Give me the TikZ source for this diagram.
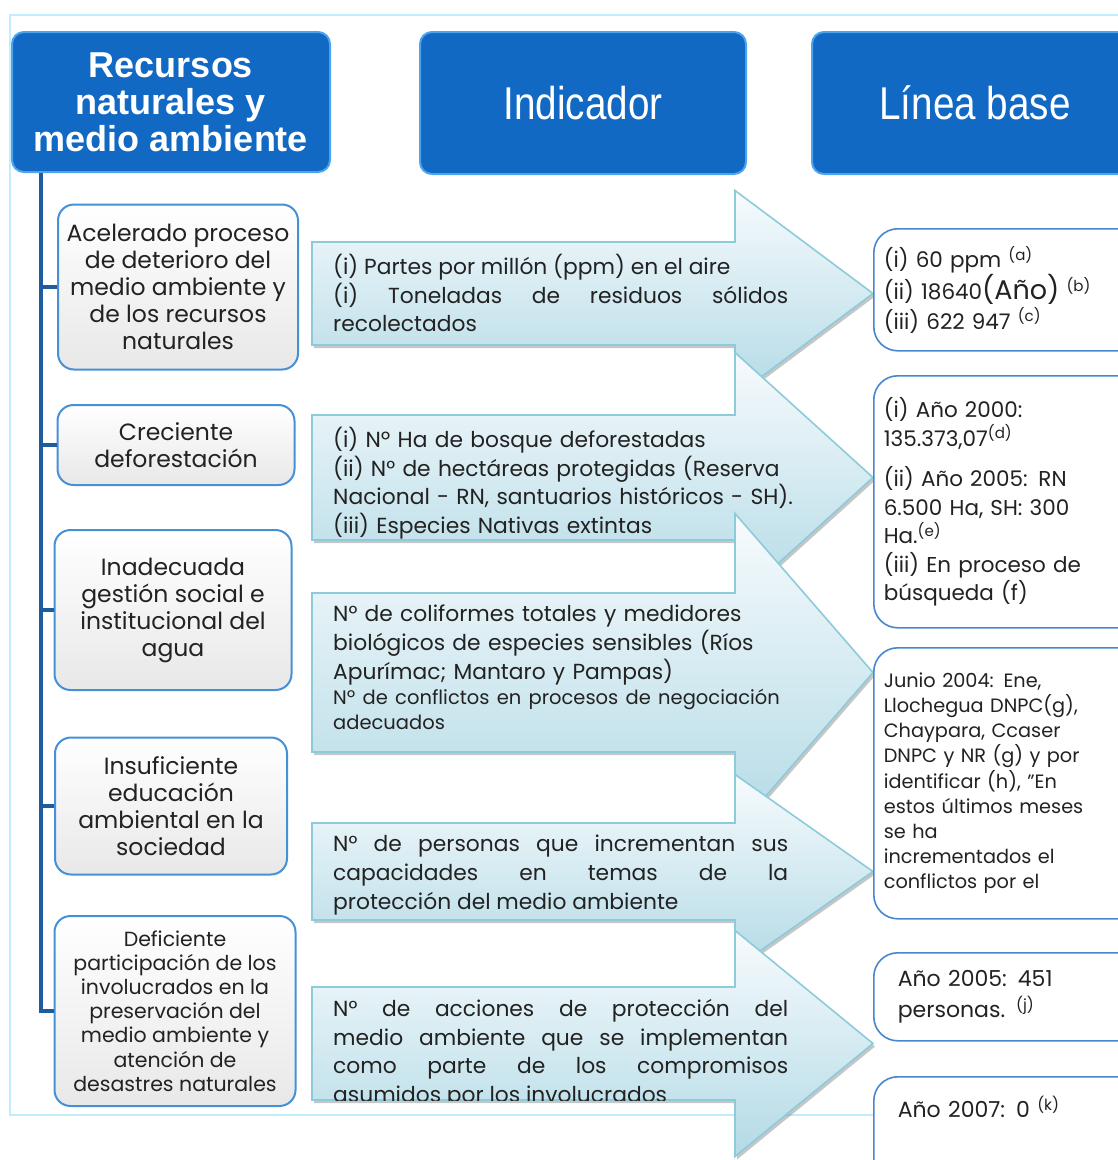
\documentclass[tikz,border=0pt]{standalone}
\usepackage{fontspec}
\setmainfont{Poppins}
\newfontfamily\hdrfont{Liberation Sans}
\newfontfamily\hdrnarrow{Liberation Sans}[FakeStretch=0.84]
\usetikzlibrary{positioning,shadows}
\hyphenpenalty=10000
\exhyphenpenalty=10000

\definecolor{hdrblue}{HTML}{1169C4}
\definecolor{hdrrim}{HTML}{4DA3EE}
\definecolor{trunkblue}{HTML}{1E5C9E}
\definecolor{boxblue}{HTML}{4690D8}
\definecolor{boxgray}{HTML}{E8E8E8}
\definecolor{arrowedge}{HTML}{8DCADA}
\definecolor{arrowtop}{HTML}{F7FBFD}
\definecolor{arrowbot}{HTML}{B3DAE6}
\definecolor{baseblue}{HTML}{4A86CF}
\definecolor{framecyan}{HTML}{C0EEFB}
\definecolor{ink}{HTML}{222222}

\tikzset{
  hdrbox/.style={rounded corners=12pt, fill=hdrblue, draw=hdrrim, line width=2pt,
    text=white, align=center, inner sep=0pt},
  causebox/.style={rounded corners=16pt, draw=boxblue, line width=2pt,
    top color=white, bottom color=boxgray, align=center, text=ink, inner sep=0pt,
    font=\fontsize{23.5}{27}\selectfont},
  basebox/.style={rounded corners=24pt, draw=baseblue, line width=1.6pt, fill=white,
    align=left, anchor=north west, text=ink, inner xsep=10pt, inner ysep=0pt,
    text width=250pt},
  arrowbox/.style={draw=arrowedge, line width=1.6pt, top color=arrowtop,
    bottom color=arrowbot,
    drop shadow={shadow xshift=2pt, shadow yshift=-3pt, fill=gray, opacity=.45}},
  indtext/.style={anchor=north west, inner sep=0pt, text width=455pt, text=ink,
    font=\fontsize{21.8}{28.7}\selectfont},
  trunk/.style={draw=trunkblue, line width=4pt},
  frame/.style={draw=framecyan, line width=2.5pt},
}

% arrow: name, top, bottom, text
\newcommand{\indarrow}[5][align=left, text width=480pt]{%
  \pgfmathsetmacro{\arrmid}{(#3+#4)/2}
  \pgfmathsetmacro{\arrhalf}{#4-#3}
  \draw[arrowbox] (312,#3) -- (735,#3) -- (735,\arrmid-\arrhalf) -- (873,\arrmid)
    -- (735,\arrmid+\arrhalf) -- (735,#4) -- (312,#4) -- cycle;
  \begin{scope}
    \clip (312,#3) rectangle (873,#4);
    \node[indtext,#1] (#2) at (333,#3+12) {#5};
  \end{scope}
}

\begin{document}
\begin{tikzpicture}[x=1pt,y=-1pt]
  \clip (0,0) rectangle (1118,1160);
  \draw[frame] (10,15) rectangle (1150,1115);

  % headers
  \node[hdrbox, minimum width=318pt, minimum height=140pt,
    font=\hdrfont\bfseries\fontsize{36}{37}\selectfont] (hdr1) at (171,102)
    {Recursos\\naturales y\\medio ambiente};
  \node[hdrbox, minimum width=326pt, minimum height=142pt,
    font=\hdrnarrow\fontsize{46}{50}\selectfont] (hdr2) at (583,103) {Indicador};
  \node[hdrbox, minimum width=326pt, minimum height=142pt,
    font=\hdrnarrow\fontsize{46}{50}\selectfont] (hdr3) at (975,103) {Línea base};

  % causes
  \node[causebox, minimum width=240pt, minimum height=165pt] (cause1) at (178,287)
    {Acelerado proceso\\de deterioro del\\medio ambiente y\\de los recursos\\naturales};
  \node[causebox, minimum width=237pt, minimum height=80pt] (cause2) at (176,445)
    {Creciente\\deforestación};
  \node[causebox, minimum width=237pt, minimum height=160pt] (cause3) at (173,610)
    {Inadecuada\\gestión social  e\\institucional del\\agua};
  \node[causebox, minimum width=232pt, minimum height=137pt] (cause4) at (171,806)
    {Insuficiente\\educación\\ambiental en la\\sociedad};
  \node[causebox, minimum width=241pt, minimum height=190pt,
    font=\fontsize{20.5}{24.2}\selectfont] (cause5) at (175,1011)
    {Deficiente\\participación de los\\involucrados en la\\preservación del\\medio ambiente  y\\atención  de\\desastres naturales};

  \foreach \c in {1,...,5}
    \draw[trunk] ([xshift=30pt]hdr1.south west) |- (cause\c.west);

  % indicators
  \indarrow[align=justify]{ind1}{242}{345}{(i) Partes por millón (ppm) en el aire\par
    (i) Toneladas de residuos sólidos\linebreak recolectados}
  \indarrow{ind2}{415}{540}{(i) Nº Ha de bosque deforestadas\newline
    (ii) N° de hectáreas protegidas (Reserva\newline
    Nacional - RN, santuarios históricos - SH).\newline
    (iii) Especies Nativas extintas}
  \indarrow{ind3}{593}{752}{N° de coliformes totales y medidores\newline
    biológicos de especies sensibles (Ríos\newline
    Apurímac; Mantaro y Pampas)\par
    {\fontsize{19.5}{25}\selectfont Nº de conflictos en procesos de negociación\newline adecuados\par}}
  \indarrow[align=justify]{ind4}{823}{920}{N° de personas que incrementan sus\linebreak
    capacidades en temas de la\linebreak protección del medio ambiente}
  \indarrow[align=justify]{ind5}{987}{1100}{N° de acciones de protección del\linebreak
    medio ambiente que se implementan\linebreak como parte de los compromisos\linebreak
    asumidos por los involucrados}

  % baselines
  \node[basebox, minimum height=122pt,
    font=\fontsize{21.5}{30}\selectfont] (base1) at (873,228)
    {(i) 60 ppm \textsuperscript{(a)}\\
     (ii) 18640{\fontsize{27}{30}\selectfont (Año)} \textsuperscript{(b)}\\
     (iii) 622 947 \textsuperscript{(c)}};
  \node[basebox, minimum height=252pt,
    font=\fontsize{21.5}{28.5}\selectfont] (base2) at (873,375)
    {(i) Año 2000:\\135.373,07\textsuperscript{(d)}\\[12pt]
     (ii) Año 2005: RN\\6.500 Ha, SH: 300\\Ha.\textsuperscript{(e)}\\
     (iii) En proceso de\\búsqueda (f)};
  \node[basebox, minimum height=271pt,
    font=\fontsize{19.3}{25.2}\selectfont] (base3) at (873,647)
    {Junio 2004: Ene,\\Llochegua DNPC(g),\\Chaypara, Ccaser\\DNPC y NR (g) y por\\
     identificar  (h), "En\\estos últimos meses\\se ha\\incrementados el\\conflictos por el};
  \node[basebox, minimum height=88pt, inner xsep=24pt, text width=222pt,
    font=\fontsize{22}{31}\selectfont] (base4) at (873,952)
    {Año 2005: 451\\personas. \textsuperscript{(j)}};
  \node[basebox, inner xsep=24pt, text width=222pt, text height=41pt, text depth=80pt,
    font=\fontsize{22}{31}\selectfont] (base5) at (873,1076)
    {Año 2007: 0 \textsuperscript{(k)}};
\end{tikzpicture}
\end{document}
